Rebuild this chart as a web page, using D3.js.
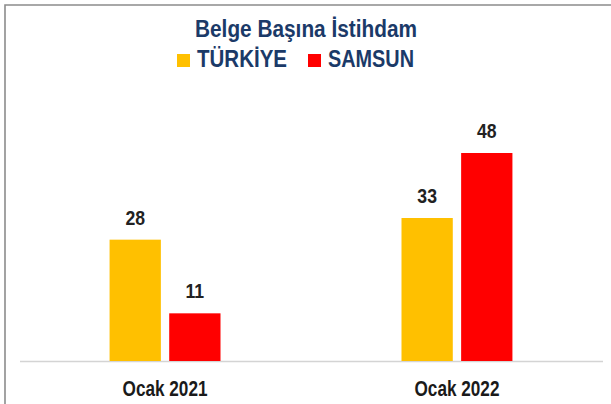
<!DOCTYPE html>
<html>
<head>
<meta charset="utf-8">
<script src="https://cdn.jsdelivr.net/npm/d3@7"></script>
<style>
  body { margin: 0; background: #fff; }
  svg { display: block; }
</style>
</head>
<body>
<svg id="vis" width="611" height="404"></svg>
<script>
// data
const categories = ["Ocak 2021", "Ocak 2022"];
const seriesNames = ["TÜRKİYE", "SAMSUN"];
const turkiye = [28, 33];
const samsun = [11, 48];
const colors = ["#FFC000", "#FF0000"];

const svg = d3.select("#vis");
const font = "'Liberation Sans', Arial, sans-serif";
const navy = "#1B3A68";

// squeeze text like Arial Narrow
function narrow(sel, factor) {
  sel.each(function () {
    const w = this.getComputedTextLength();
    d3.select(this)
      .attr("textLength", w * factor)
      .attr("lengthAdjust", "spacingAndGlyphs");
  });
}

// frame (left + top edge)
svg.append("path")
  .attr("d", "M5,404 V5 H611")
  .attr("fill", "none")
  .attr("stroke", "#8c8c8c")
  .attr("stroke-width", 1.6);

const baseY = 361;

// SCALES
const y = d3.scaleLinear().domain([0, 48]).range([baseY, 153]);

const x0 = d3.scaleBand()
  .domain(categories)
  .range([22, 600])
  .paddingInner(0.62)
  .paddingOuter(0.3);

const x1 = d3.scaleBand()
  .domain(seriesNames)
  .range([0, x0.bandwidth()])
  .paddingInner(0.14);

const rows = categories.map((c, i) => ({
  cat: c,
  vals: [
    { name: seriesNames[0], v: turkiye[i], color: colors[0] },
    { name: seriesNames[1], v: samsun[i], color: colors[1] }
  ]
}));

// axis line
svg.append("line")
  .attr("x1", 20).attr("x2", 603)
  .attr("y1", baseY + 0.5).attr("y2", baseY + 0.5)
  .attr("stroke", "#d4d4d4")
  .attr("stroke-width", 1.5);

const groups = svg.append("g")
  .selectAll("g")
  .data(rows)
  .join("g")
  .attr("transform", d => `translate(${x0(d.cat)},0)`);

groups.selectAll("rect")
  .data(d => d.vals)
  .join("rect")
  .attr("x", d => x1(d.name))
  .attr("width", x1.bandwidth())
  .attr("y", d => y(d.v))
  .attr("height", d => baseY - y(d.v))
  .attr("fill", d => d.color);

groups.selectAll("text")
  .data(d => d.vals)
  .join("text")
  .attr("x", d => x1(d.name) + x1.bandwidth() / 2)
  .attr("y", d => y(d.v) - 15)
  .attr("text-anchor", "middle")
  .style("font-family", font)
  .style("font-weight", "bold")
  .style("font-size", "21px")
  .style("fill", "#222")
  .text(d => d.v)
  .call(narrow, 0.84);

// x axis labels
const axis = d3.axisBottom(x0).tickSize(0).tickPadding(0);
svg.append("g")
  .attr("class", "axis")
  .attr("transform", `translate(0,${baseY + 19})`)
  .call(axis)
  .call(g => g.select(".domain").remove())
  .selectAll("text")
  .style("font-family", font)
  .style("font-size", "22px")
  .style("font-weight", "bold")
  .style("fill", "#1a1a1a")
  .call(narrow, 0.78);

// title
svg.append("text")
  .attr("x", 306)
  .attr("y", 37)
  .attr("text-anchor", "middle")
  .attr("textLength", 222)
  .attr("lengthAdjust", "spacingAndGlyphs")
  .style("font-family", font)
  .style("font-weight", "bold")
  .style("font-size", "24.5px")
  .style("fill", navy)
  .text("Belge Başına İstihdam");

// legend
const legendX = [177, 308];
const legendW = [90, 86];
const legend = svg.append("g")
  .selectAll("g")
  .data(seriesNames)
  .join("g")
  .attr("transform", (d, i) => `translate(${legendX[i]},54)`);

legend.append("rect")
  .attr("width", 13)
  .attr("height", 13)
  .attr("fill", (d, i) => colors[i]);

legend.append("text")
  .attr("x", 20)
  .attr("y", 13)
  .attr("textLength", (d, i) => legendW[i])
  .attr("lengthAdjust", "spacingAndGlyphs")
  .style("font-family", font)
  .style("font-weight", "bold")
  .style("font-size", "23px")
  .style("fill", navy)
  .text(d => d);
</script>
</body>
</html>
